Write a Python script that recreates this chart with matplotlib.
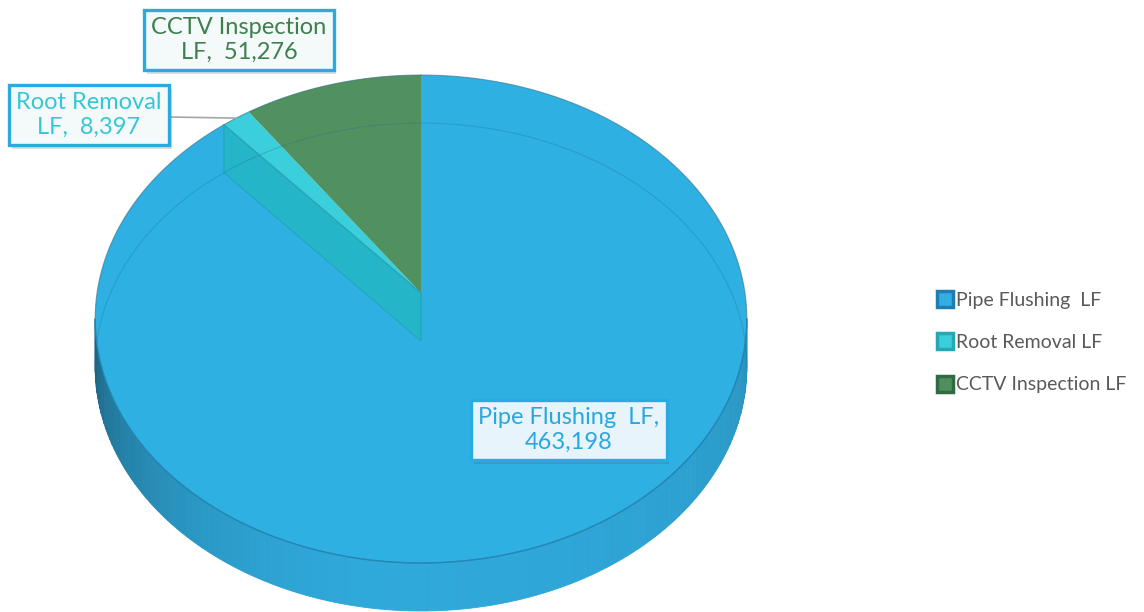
import numpy as np
import matplotlib.pyplot as plt
from matplotlib.patches import Polygon
from matplotlib.lines import Line2D
import matplotlib.patheffects as pe

plt.rcParams['font.family'] = ['Lato', 'DejaVu Sans']

# Data
categories = ['Pipe Flushing  LF', 'Root Removal LF', 'CCTV Inspection LF']
values = [463198, 8397, 51276]
label_fmt = ['Pipe Flushing  LF,\n{:,}', 'Root Removal\nLF,  {:,}', 'CCTV Inspection\nLF,  {:,}']

top_colors = ['#2EB0E3', '#3ACFDA', '#51905F']
wall_colors = ['#2A9FD2', '#23B6C4', '#3F7A4E']
text_colors = ['#29A8DF', '#33C8D5', '#3E7F4E']
legend_inner = ['#33AEE2', '#3ACFDA', '#4F8F5E']
legend_outer = ['#1F7DB3', '#27A6B3', '#2F6A42']

# 3D pie projection (pixel space, perspective tilt)
CX, CY = 421, 293
A, B, G = 324, 241.2, 0.1066
DEPTH = 48


def proj(phi_deg, dz=0.0):
    phi = np.radians(phi_deg)
    u, v = np.sin(phi), np.cos(phi)
    w = 1 + G * v
    return np.column_stack([CX + A * u / w, CY - B * v / w + dz])


fig = plt.figure(figsize=(11.44, 6.12), dpi=100)
ax = fig.add_axes([0, 0, 1, 1])
ax.set_xlim(0, 1144)
ax.set_ylim(612, 0)
ax.axis('off')

total = sum(values)
bounds = np.concatenate([[0], np.cumsum(values)]) / total * 360.0

# front side wall, shaded strips (phi runs right -> bottom -> left)
phi_l = np.degrees(np.arccos(-G))
phi_r = 360 - phi_l
edges = np.linspace(phi_l, phi_r, 140)
base = np.array([0x2F, 0xA8, 0xDA]) / 255.0
for a0, a1 in zip(edges[:-1], edges[1:]):
    ang = np.linspace(a0, a1, 4)
    top = proj(ang)
    bot = proj(ang[::-1], DEPTH)
    t = ((a0 + a1) / 2 - phi_l) / (phi_r - phi_l)   # 0 = right end, 1 = left end
    if t < 0.55:
        shade = 0.82 + 0.18 * np.sin(np.pi * t / 1.1) ** 0.5
    else:
        shade = 1.0 - 0.42 * ((t - 0.55) / 0.45) ** 1.6
    col = np.clip(base * shade, 0, 1)
    ax.add_patch(Polygon(np.vstack([top, bot]), closed=True, fc=col, ec=col, lw=0.6, zorder=1))

# top faces
for i in range(len(values)):
    ang = np.linspace(bounds[i], bounds[i + 1], 200)
    pts = np.vstack([[CX, CY], proj(ang)])
    ax.add_patch(Polygon(pts, closed=True, fc=top_colors[i], ec='none', zorder=2))

# radial wall of the root removal slice, seen through the top
p = proj([bounds[1]])[0]
wall = np.array([[CX, CY], p, p + [0, DEPTH], [CX, CY + DEPTH]])
ax.add_patch(Polygon(wall, closed=True, fc=wall_colors[1], ec='#1E9FAE', lw=0.6, alpha=0.85, zorder=3))
ax.plot([CX, p[0]], [CY, p[1]], color='#2AA5B5', lw=0.8, zorder=3)

# back bottom rim seen through the translucent top
back = np.linspace(phi_r, phi_l + 360, 300)
rim = proj(back, DEPTH)
ax.plot(rim[:, 0], rim[:, 1], color='#1B6F9A', lw=0.8, alpha=0.3, zorder=3)

# top rim outline
full = proj(np.linspace(0, 360, 400))
ax.plot(full[:, 0], full[:, 1], color='#3A6F86', lw=0.8, alpha=0.6, zorder=4)
front = proj(np.linspace(phi_l, phi_r, 200))
ax.plot(front[:, 0], front[:, 1], color='#1F86B8', lw=1.0, alpha=0.8, zorder=4)

# data labels
label_pos = [(569, 430), (89, 115), (239, 40)]
box_fc = ['#E8F4FB', '#F4F9F9', '#F4F9F9']
for i in range(len(values)):
    t = ax.text(label_pos[i][0], label_pos[i][1], label_fmt[i].format(values[i]),
                ha='center', va='center', fontsize=17, color=text_colors[i],
                linespacing=1.2, zorder=6,
                bbox=dict(boxstyle='square,pad=0.3', fc=box_fc[i], ec='#29ABE2', lw=2.4))
    t.get_bbox_patch().set_path_effects([pe.SimplePatchShadow(offset=(2, -3), alpha=0.18), pe.Normal()])

# leader line for root removal
mid = proj([(bounds[1] + bounds[2]) / 2])[0]
ax.plot([169, mid[0]], [117, mid[1]], color='#A6A6A6', lw=1.2, zorder=5)

# legend
handles = [Line2D([], [], ls='', marker='s', ms=12, mfc=legend_inner[i], mec=legend_outer[i],
                  mew=2.5, label=categories[i]) for i in range(len(values))]
leg = ax.legend(handles=handles, loc='center left', bbox_to_anchor=(0.812, 0.44),
                frameon=False, fontsize=14, labelcolor='#595959',
                handlelength=0.9, handletextpad=0.1, labelspacing=1.3, borderaxespad=0)

fig.savefig('out.png', dpi=100)
